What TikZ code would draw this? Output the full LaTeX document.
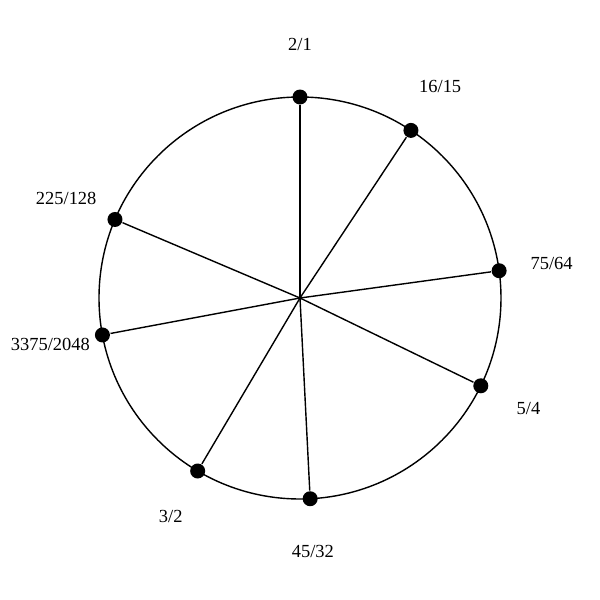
\documentclass[tikz,border=0pt]{standalone}
\usepackage{fontspec}
\setmainfont{Liberation Serif}

\begin{document}
\begin{tikzpicture}[%
	    line width=0.8pt,
	    dot/.style={circle,fill=black,inner sep=0pt,minimum size=0.3cm},
	    ratio/.style={font=\fontsize{10.5}{12}\selectfont,inner sep=0pt}
	  ]

  \useasboundingbox (-6,-6.04) rectangle (6,5.96);

  %\fill[gray!20] (-6,-6.04) rectangle (6,5.96);

	  \coordinate (O) at (0,0);
	  \draw (O) circle (4.02cm);

	  \node[dot] (R21) at (90:4.02) {};
	  \node[dot] (R1615) at (56.5:4.02) {};
	  \node[dot] (R7564) at (7.8:4.02) {};
	  \node[dot] (R54) at (-25.9:4.02) {};
	  \node[dot] (R4532) at (-87.1:4.02) {};
	  \node[dot] (R32) at (-120.6:4.02) {};
	  \node[dot] (R33752048) at (-169.4:4.02) {};
	  \node[dot] (R225128) at (157:4.02) {};

	  \node[ratio] (L21) at (90:5.08) {2/1};
	  \node[ratio] (L1615) at (56.5:5.08) {16/15};
	  \node[ratio] (L7564) at (7.8:5.08) {75/64};
	  \node[ratio] (L54) at (-25.9:5.08) {5/4};
	  \node[ratio] (L4532) at (-87.1:5.08) {45/32};
	  \node[ratio] (L32) at (-120.6:5.08) {3/2};
	  \node[ratio] (L33752048) at (-169.4:5.08) {3375/2048};
	  \node[ratio] (L225128) at (157:5.08) {225/128};

	  \path
	      (O)
		  edge (R21)
		  edge (R1615)
		  edge (R7564)
		  edge (R54)
		  edge (R4532)
		  edge (R32)
		  edge (R33752048)
		  edge (R225128);

\end{tikzpicture}
\end{document}
